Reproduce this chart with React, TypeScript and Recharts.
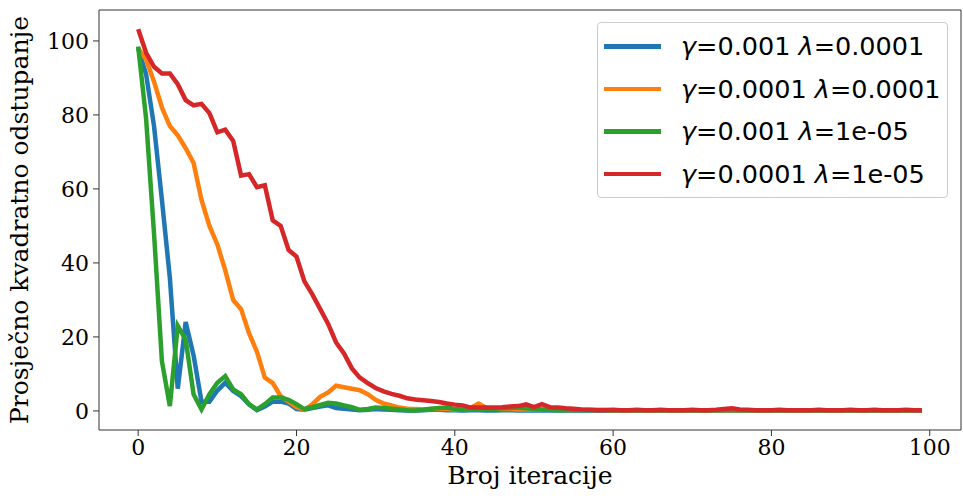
import { LineChart, Line, XAxis, YAxis, Legend, ReferenceLine } from 'recharts';

// iteration index 0..99
const iterations = Array.from({ length: 100 }, (_, i) => i);

const blueValues = [
    98, 91, 77, 57, 36, 6, 24, 15, 2.5, 2.5,
    5.5, 7.6, 5.4, 4, 1.8, 0.2, 1.2, 2.5, 2.5, 2,
    0.5, 0.3, 0.8, 1.2, 1.5, 0.8, 0.6, 0.4, 0.2, 0.3,
    0.5, 0.4, 0.3, 0.2, 0.1, 0.1, 0.2, 0.3, 0.3, 0.2,
    0.2, 0.1, 0.2, 0.2, 0.1, 0.1, 0.2, 0.2, 0.1, 0.1,
    0.1, 0.2, 0.1, 0.1, 0.1, 0.1, 0.1, 0.1, 0.1, 0.1,
    0.1, 0.1, 0.1, 0.1, 0.1, 0.1, 0.1, 0.1, 0.1, 0.1,
    0.1, 0.1, 0.1, 0.1, 0.1, 0.1, 0.1, 0.1, 0.1, 0.1,
    0.1, 0.1, 0.1, 0.1, 0.1, 0.1, 0.1, 0.1, 0.1, 0.1,
    0.1, 0.1, 0.1, 0.1, 0.1, 0.1, 0.1, 0.1, 0.1, 0.1,
];

const orangeValues = [
    98, 95, 89, 82, 77, 74.5, 71, 67, 57, 50,
    45, 38, 30, 27.5, 21, 16, 9, 7.5, 4, 2.5,
    1, 0.3, 1.8, 3.8, 5, 6.8, 6.4, 6, 5.6, 4.5,
    3, 2, 1.5, 0.9, 0.6, 0.5, 0.4, 0.5, 0.6, 0.5,
    0.4, 0.5, 0.8, 2, 0.8, 0.6, 0.5, 0.5, 0.4, 0.4,
    0.4, 0.3, 0.3, 0.3, 0.3, 0.3, 0.3, 0.3, 0.3, 0.3,
    0.2, 0.2, 0.2, 0.2, 0.2, 0.2, 0.2, 0.2, 0.2, 0.2,
    0.2, 0.2, 0.2, 0.2, 0.2, 0.2, 0.2, 0.2, 0.2, 0.2,
    0.2, 0.2, 0.2, 0.2, 0.2, 0.2, 0.2, 0.2, 0.2, 0.2,
    0.2, 0.2, 0.2, 0.2, 0.2, 0.2, 0.2, 0.2, 0.2, 0.2,
];

const greenValues = [
    98.5, 79, 48, 13.4, 1.3, 23, 19.3, 4.5, 0.4, 4.5,
    7.6, 9.4, 5.8, 4.5, 1.8, 0.4, 1.8, 3.6, 3.6, 3,
    1.8, 0.5, 1, 1.6, 2.2, 2, 1.5, 1, 0.3, 0.5,
    0.9, 0.8, 0.6, 0.4, 0.2, 0.1, 0.3, 0.6, 0.8, 0.9,
    0.5, 0.3, 0.3, 0.4, 0.5, 0.6, 0.7, 0.8, 0.9, 0.7,
    0.5, 0.4, 0.3, 0.2, 0.2, 0.2, 0.2, 0.2, 0.2, 0.2,
    0.2, 0.2, 0.2, 0.2, 0.2, 0.2, 0.2, 0.2, 0.2, 0.2,
    0.2, 0.2, 0.2, 0.2, 0.2, 0.2, 0.2, 0.2, 0.2, 0.2,
    0.2, 0.2, 0.2, 0.2, 0.2, 0.2, 0.2, 0.2, 0.2, 0.2,
    0.2, 0.2, 0.2, 0.2, 0.2, 0.2, 0.2, 0.2, 0.2, 0.2,
];

const redValues = [
    103.2, 96.8, 93, 91.2, 91.2, 88.3, 84, 82.6, 83, 80.5,
    75.3, 76, 73, 63.6, 64, 60.5, 61, 51.5, 50, 43.5,
    41.7, 35, 31.5, 27.5, 23.5, 18.5, 15.5, 11.5, 9, 7.5,
    6.2, 5.3, 4.6, 4.1, 3.4, 3.1, 2.9, 2.7, 2.4, 2,
    1.7, 1.5, 0.9, 0.9, 0.9, 0.9, 1, 1.2, 1.3, 1.8,
    1, 1.8, 1, 0.9, 0.7, 0.6, 0.4, 0.3, 0.2, 0.2,
    0.3, 0.2, 0.2, 0.3, 0.2, 0.2, 0.3, 0.2, 0.2, 0.2,
    0.3, 0.2, 0.2, 0.3, 0.5, 0.7, 0.4, 0.3, 0.2, 0.2,
    0.2, 0.3, 0.2, 0.2, 0.2, 0.2, 0.3, 0.2, 0.2, 0.2,
    0.3, 0.2, 0.2, 0.3, 0.2, 0.2, 0.2, 0.3, 0.2, 0.2,
];

const seriesNames = [
    'γ=0.001 λ=0.0001',
    'γ=0.0001 λ=0.0001',
    'γ=0.001 λ=1e-05',
    'γ=0.0001 λ=1e-05',
];

const xTicks = [0, 20, 40, 60, 80, 100];
const yTicks = [0, 20, 40, 60, 80, 100];

const COLORS = ['#1f77b4', '#ff7f0e', '#2ca02c', '#d62728'];
const X_DOMAIN: [number, number] = [-4.95, 103.95];
const Y_DOMAIN: [number, number] = [-5.16, 108.36];
const SPINE = '#333';

const data = iterations.map((it, i) => ({
    iter: it,
    blue: blueValues[i],
    orange: orangeValues[i],
    green: greenValues[i],
    red: redValues[i],
}));

// greek letters are italic like matplotlib mathtext
function formatLabel(text: string) {
    return text.split(/([γλ])/).map((part, i) =>
        part === 'γ' || part === 'λ'
            ? <i key={i}>{part}</i>
            : <span key={i}>{part}</span>
    );
}

const renderLegend = (props: any) => {
    // keep plotting order, not alphabetical
    const payload = [...(props.payload || [])].sort(
        (a: any, b: any) => seriesNames.indexOf(a.value) - seriesNames.indexOf(b.value)
    );
    return (
        <div style={{
            border: '1px solid #cccccc',
            borderRadius: 4,
            background: 'rgba(255,255,255,0.8)',
            boxSizing: 'border-box',
            width: 351,
            height: 176,
            paddingTop: 2,
        }}>
            {payload.map((entry: any) => (
                <div key={entry.value} style={{ display: 'flex', alignItems: 'center', height: 42.5 }}>
                    <div style={{ width: 57, height: 4.5, background: entry.color, marginLeft: 6 }} />
                    <span style={{ marginLeft: 20, fontFamily: 'DejaVu Sans', fontSize: 25.5, color: '#000', whiteSpace: 'nowrap' }}>
                        {formatLabel(entry.value)}
                    </span>
                </div>
            ))}
        </div>
    );
};

const renderYLabel = (props: any) => {
    const { viewBox } = props;
    const x = viewBox.x + 28;
    const y = viewBox.y + viewBox.height / 2;
    return (
        <text
            x={x}
            y={y}
            transform={`rotate(-90, ${x}, ${y})`}
            textAnchor="middle"
            fontFamily="DejaVu Serif"
            fontSize={25}
            fill="#000"
        >
            Prosječno kvadratno odstupanje
        </text>
    );
};

export default function App() {
    const keys = ['blue', 'orange', 'green', 'red'];
    return (
        <div style={{ position: 'absolute', left: 0, top: 0, width: 963, height: 500, background: '#fff' }}>
            <LineChart width={963} height={500} data={data} margin={{ top: 10, right: 2, left: 0, bottom: 0 }}>
                <XAxis
                    dataKey="iter"
                    type="number"
                    domain={X_DOMAIN}
                    ticks={xTicks}
                    allowDataOverflow
                    height={70}
                    tickSize={6}
                    tickMargin={3}
                    tick={{ fontFamily: 'DejaVu Serif', fontSize: 22, fill: '#000' }}
                    tickLine={{ stroke: SPINE }}
                    axisLine={{ stroke: SPINE }}
                    label={{
                        value: 'Broj iteracije',
                        position: 'insideBottom',
                        offset: 16,
                        fontFamily: 'DejaVu Serif',
                        fontSize: 25,
                        fill: '#000',
                    }}
                />
                <YAxis
                    type="number"
                    domain={Y_DOMAIN}
                    ticks={yTicks}
                    allowDataOverflow
                    width={99}
                    tickSize={6}
                    tickMargin={4}
                    tick={{ fontFamily: 'DejaVu Serif', fontSize: 22, fill: '#000' }}
                    tickLine={{ stroke: SPINE }}
                    axisLine={{ stroke: SPINE }}
                    label={{ content: renderYLabel }}
                />
                <ReferenceLine y={Y_DOMAIN[1]} stroke={SPINE} />
                <ReferenceLine x={X_DOMAIN[1]} stroke={SPINE} />
                {keys.map((k, i) => (
                    <Line
                        key={k}
                        type="linear"
                        dataKey={k}
                        name={seriesNames[i]}
                        stroke={COLORS[i]}
                        strokeWidth={4.5}
                        dot={false}
                        isAnimationActive={false}
                    />
                ))}
                <Legend
                    layout="vertical"
                    align="center"
                    verticalAlign="middle"
                    width={351}
                    height={176}
                    content={renderLegend}
                    wrapperStyle={{ top: 22, left: 597 }}
                />
            </LineChart>
        </div>
    );
}
